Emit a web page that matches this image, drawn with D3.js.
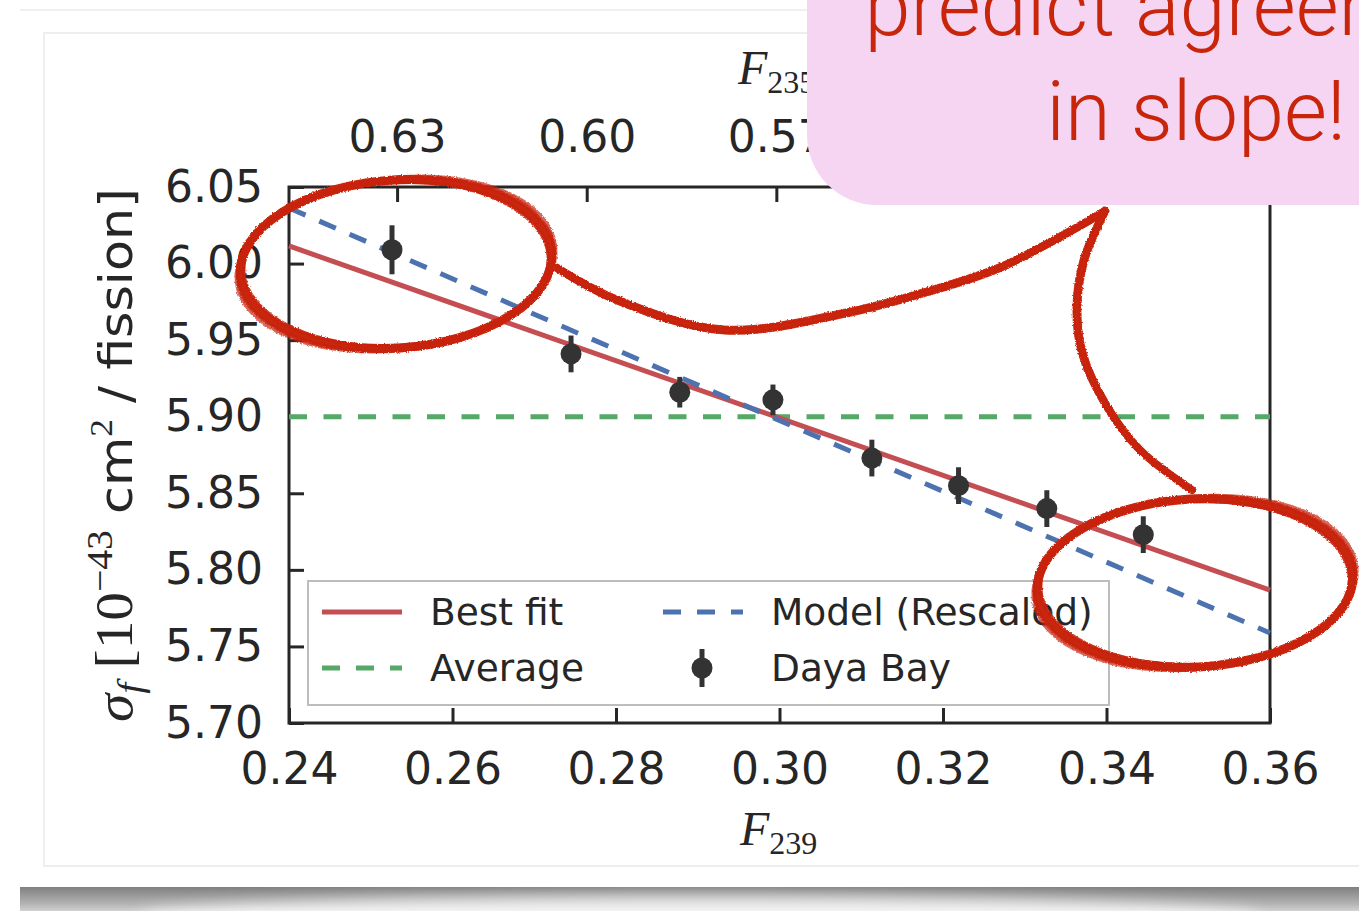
<!DOCTYPE html>
<html>
<head>
<meta charset="utf-8">
<script src="https://cdn.jsdelivr.net/npm/d3@7"></script>
<style>
  html, body { margin: 0; padding: 0; background: #ffffff; }
  svg { display: block; }
</style>
</head>
<body>
<svg id="slide" width="1359" height="911"></svg>
<script>
// Daya Bay IBD yield per fission versus the Pu-239 fission fraction
const f239      = [0.2526, 0.2745, 0.2878, 0.2992, 0.3113, 0.3219, 0.3327, 0.3445];
const sigmaF    = [6.009, 5.941, 5.916, 5.911, 5.873, 5.855, 5.840, 5.823];
const sigmaErr  = [0.016, 0.012, 0.010, 0.010, 0.012, 0.012, 0.012, 0.012];

// straight-line curves, evaluated at the two ends of the F239 range
const lineEndsX   = [0.24, 0.36];
const bestFitY    = [6.0115, 5.7868];
const modelY      = [6.0363, 5.7588];
const averageY    = 5.90;

const xTickValues   = [0.24, 0.26, 0.28, 0.30, 0.32, 0.34, 0.36];
const yTickValues   = [5.70, 5.75, 5.80, 5.85, 5.90, 5.95, 6.00, 6.05];
const topTickValues = [0.63, 0.60, 0.57];
// F235 tied to F239 along the reactor burn-up path
const topDomain     = [0.6471, 0.4919];

const legendLabels = ["Best fit", "Model (Rescaled)", "Average", "Daya Bay"];
const calloutLines = ["predict agreement", "in slope!"];

const C = {
  ink: "#262626", red: "#c44e52", blue: "#4c72b0", green: "#55a868",
  dot: "#333333", pen: "#c8250b", bubble: "#f6d5f3"
};

const svg = d3.select("#slide");
const defs = svg.append("defs");

// scratchy marker-pen look for the hand-drawn annotations
const rough = defs.append("filter").attr("id", "rough")
  .attr("x", "-10%").attr("y", "-10%").attr("width", "120%").attr("height", "120%");
rough.append("feTurbulence").attr("type", "fractalNoise").attr("baseFrequency", "0.8")
  .attr("numOctaves", 2).attr("seed", 3).attr("result", "noise");
rough.append("feDisplacementMap").attr("in", "SourceGraphic").attr("in2", "noise")
  .attr("scale", 3).attr("xChannelSelector", "R").attr("yChannelSelector", "G");

const soft = defs.append("filter").attr("id", "soft");
soft.append("feGaussianBlur").attr("stdDeviation", 1.2);
const softer = defs.append("filter").attr("id", "softer")
  .attr("x", "-20%").attr("y", "-200%").attr("width", "140%").attr("height", "500%");
softer.append("feGaussianBlur").attr("stdDeviation", 8);

const shadowGrad = defs.append("linearGradient").attr("id", "shadowGrad")
  .attr("x1", 0).attr("y1", 0).attr("x2", 0).attr("y2", 1);
shadowGrad.append("stop").attr("offset", "0%").attr("stop-color", "#7d7d7d");
shadowGrad.append("stop").attr("offset", "60%").attr("stop-color", "#b4b4b4");
shadowGrad.append("stop").attr("offset", "100%").attr("stop-color", "#e6e6e6");

// ---- slide card ----
svg.append("rect").attr("x", 20).attr("y", 886).attr("width", 1400).attr("height", 30)
  .attr("fill", "url(#shadowGrad)");
svg.append("ellipse").attr("cx", 700).attr("cy", 918).attr("rx", 560).attr("ry", 22)
  .attr("fill", "#ffffff").attr("opacity", 0.75).attr("filter", "url(#softer)");
svg.append("rect").attr("x", 20).attr("y", 10).attr("width", 1400).attr("height", 877)
  .attr("fill", "#ffffff");
svg.append("line").attr("x1", 20).attr("x2", 20).attr("y1", 12).attr("y2", 887)
  .attr("stroke", "#b9b9b9").attr("stroke-width", 3).attr("filter", "url(#soft)");
svg.append("line").attr("x1", 20).attr("x2", 1420).attr("y1", 10).attr("y2", 10)
  .attr("stroke", "#f0f0f0").attr("stroke-width", 2);
svg.append("rect").attr("x", 44).attr("y", 33).attr("width", 1400).attr("height", 833)
  .attr("fill", "none").attr("stroke", "#eeeeee").attr("stroke-width", 2);

// ---- chart ----
const x = d3.scaleLinear().domain([0.24, 0.36]).range([289, 1270]);
const y = d3.scaleLinear().domain([5.70, 6.05]).range([723, 187]);
const xTop = d3.scaleLinear().domain(topDomain).range([289, 1270]);

const chart = svg.append("g");
const tickFont = "'DejaVu Sans', sans-serif";

function styleAxis(g) {
  g.select(".domain").remove();
  g.selectAll(".tick line").attr("stroke", C.ink).attr("stroke-width", 3);
  g.selectAll(".tick text").attr("fill", C.ink).attr("font-size", 44)
    .attr("font-family", tickFont);
}

chart.append("g").attr("transform", `translate(0,${y(5.70)})`)
  .call(d3.axisBottom(x).tickValues(xTickValues).tickFormat(d3.format(".2f"))
    .tickSizeInner(-15).tickSizeOuter(0).tickPadding(30))
  .call(styleAxis);

chart.append("g").attr("transform", `translate(${x(0.24)},0)`)
  .call(d3.axisLeft(y).tickValues(yTickValues).tickFormat(d3.format(".2f"))
    .tickSizeInner(-15).tickSizeOuter(0).tickPadding(26))
  .call(styleAxis);

chart.append("g").attr("transform", `translate(0,${y(6.05)})`)
  .call(d3.axisTop(xTop).tickValues(topTickValues).tickFormat(d3.format(".2f"))
    .tickSizeInner(-15).tickSizeOuter(0).tickPadding(35))
  .call(styleAxis);

// frame
chart.append("rect").attr("x", x(0.24)).attr("y", y(6.05))
  .attr("width", x(0.36) - x(0.24)).attr("height", y(5.70) - y(6.05))
  .attr("fill", "none").attr("stroke", C.ink).attr("stroke-width", 3);

const line = d3.line().x(d => x(d[0])).y(d => y(d[1]));

chart.append("path").datum(lineEndsX.map(v => [v, averageY]))
  .attr("d", line).attr("fill", "none").attr("stroke", C.green)
  .attr("stroke-width", 5).attr("stroke-dasharray", "18,16.5");

chart.append("path").datum(lineEndsX.map((v, i) => [v, bestFitY[i]]))
  .attr("d", line).attr("fill", "none").attr("stroke", C.red).attr("stroke-width", 5);

chart.append("path").datum(lineEndsX.map((v, i) => [v, modelY[i]]))
  .attr("d", line).attr("fill", "none").attr("stroke", C.blue)
  .attr("stroke-width", 5).attr("stroke-dasharray", "18,15");

const pts = chart.append("g").selectAll("g")
  .data(f239.map((v, i) => ({ f: v, s: sigmaF[i], e: sigmaErr[i] })))
  .join("g");
pts.append("line").attr("x1", d => x(d.f)).attr("x2", d => x(d.f))
  .attr("y1", d => y(d.s - d.e)).attr("y2", d => y(d.s + d.e))
  .attr("stroke", C.dot).attr("stroke-width", 5);
pts.append("circle").attr("cx", d => x(d.f)).attr("cy", d => y(d.s))
  .attr("r", 10.5).attr("fill", C.dot);

// legend
const lg = chart.append("g");
lg.append("rect").attr("x", 308).attr("y", 581).attr("width", 801).attr("height", 124)
  .attr("fill", "#ffffff").attr("fill-opacity", 0.85)
  .attr("stroke", "#bdbdbd").attr("stroke-width", 2);
const legendItems = [
  { label: legendLabels[0], kind: "solid",  color: C.red,   lx: 322, ty: 612 },
  { label: legendLabels[1], kind: "dash",   color: C.blue,  lx: 663, ty: 612 },
  { label: legendLabels[2], kind: "dash",   color: C.green, lx: 322, ty: 668 },
  { label: legendLabels[3], kind: "marker", color: C.dot,   lx: 663, ty: 668 }
];
legendItems.forEach(it => {
  if (it.kind === "marker") {
    const cx = it.lx + 39;
    lg.append("line").attr("x1", cx).attr("x2", cx).attr("y1", it.ty - 19).attr("y2", it.ty + 19)
      .attr("stroke", it.color).attr("stroke-width", 5);
    lg.append("circle").attr("cx", cx).attr("cy", it.ty).attr("r", 10.5).attr("fill", it.color);
  } else {
    lg.append("line").attr("x1", it.lx).attr("x2", it.lx + 80).attr("y1", it.ty).attr("y2", it.ty)
      .attr("stroke", it.color).attr("stroke-width", 5)
      .attr("stroke-dasharray", it.kind === "dash" ? "18,16" : null);
  }
  lg.append("text").attr("x", it.lx + 108).attr("y", it.ty + 13)
    .attr("font-family", tickFont).attr("font-size", 37.5).attr("fill", C.ink)
    .text(it.label);
});

// axis titles
const serif = "'Liberation Serif', 'DejaVu Serif', serif";
const xl = chart.append("text").attr("x", 740).attr("y", 845)
  .attr("font-family", serif).attr("font-size", 48).attr("font-style", "italic")
  .attr("fill", C.ink);
xl.append("tspan").text("F");
xl.append("tspan").attr("font-size", 32).attr("font-style", "normal").attr("dy", 9).text("239");

const tl = chart.append("text").attr("x", 738).attr("y", 84)
  .attr("font-family", serif).attr("font-size", 48).attr("font-style", "italic")
  .attr("fill", C.ink);
tl.append("tspan").text("F");
tl.append("tspan").attr("font-size", 32).attr("font-style", "normal").attr("dy", 9).text("235");

// y title, stretched along its run to span the axis height
const ylg = chart.append("g");
const yl = ylg.append("text")
  .attr("font-size", 46).attr("fill", C.ink).attr("font-family", tickFont);
yl.append("tspan").attr("font-family", serif).attr("font-style", "italic").attr("font-size", 52).text("σ");
yl.append("tspan").attr("font-family", serif).attr("font-style", "italic").attr("font-size", 36)
  .attr("dy", 10).text("f");
yl.append("tspan").attr("font-family", serif).attr("font-size", 52).attr("dy", -10).text("  [10");
yl.append("tspan").attr("font-family", serif).attr("font-size", 36).attr("dy", -20).text("−43");
yl.append("tspan").attr("dy", 20).text(" cm");
yl.append("tspan").attr("font-family", serif).attr("font-size", 32).attr("dy", -20).text("2");
yl.append("tspan").attr("dy", 20).text(" / fission]");
const titleRun = y(5.70) - 1 - (y(6.05) + 1);
const titleLen = yl.node().getComputedTextLength();
ylg.attr("transform", `translate(132,${y(5.70) - 1}) rotate(-90) scale(${titleRun / titleLen},1)`);

// ---- hand-drawn annotation ----
const pen = svg.append("g").attr("filter", "url(#rough)").attr("fill", "none")
  .attr("stroke", C.pen).attr("stroke-linecap", "round");

function penEllipse(cx, cy, rx, ry, rot) {
  [[0, 0, 0, 9, 1], [3, 2, -1.5, 3.5, 0.9], [-3.5, -2, 1.2, 3.5, 0.9], [5, 3, -2.5, 2.5, 0.7]]
    .forEach(([drx, dry, dr, w, o]) => {
      pen.append("ellipse").attr("cx", cx).attr("cy", cy)
        .attr("rx", rx + drx).attr("ry", ry + dry)
        .attr("transform", `rotate(${rot + dr},${cx},${cy})`)
        .attr("stroke-width", w).attr("opacity", o);
    });
}
penEllipse(396, 264, 156, 84, -4);
penEllipse(1195, 583, 158, 84, -3);

const curve = d3.line().curve(d3.curveCatmullRom.alpha(0.5));
const tailA = [[557, 268], [617, 300], [724, 330], [846, 313], [923, 293], [999, 268], [1076, 228], [1105, 211]];
const tailB = [[1105, 211], [1084, 260], [1077, 307], [1082, 352], [1106, 405], [1140, 450], [1192, 490]];
[[0, 8, 1], [3, 3, 0.85], [-3, 3, 0.85]].forEach(([off, w, o]) => {
  pen.append("path").attr("d", curve(tailA.map(p => [p[0], p[1] + off])))
    .attr("stroke-width", w).attr("opacity", o);
  pen.append("path").attr("d", curve(tailB.map(p => [p[0] + off, p[1]])))
    .attr("stroke-width", w).attr("opacity", o);
});

// ---- callout bubble ----
svg.append("rect").attr("x", 807).attr("y", -120).attr("width", 700).attr("height", 325)
  .attr("rx", 70).attr("ry", 70).attr("fill", C.bubble);
svg.append("g").selectAll("text").data(calloutLines).join("text")
  .attr("x", 1196).attr("y", (d, i) => 35 + i * 105)
  .attr("text-anchor", "middle")
  .attr("font-family", "Roboto, 'Liberation Sans', sans-serif").attr("font-weight", 300)
  .attr("font-size", 83).attr("fill", C.pen)
  .text(d => d);
</script>
</body>
</html>
